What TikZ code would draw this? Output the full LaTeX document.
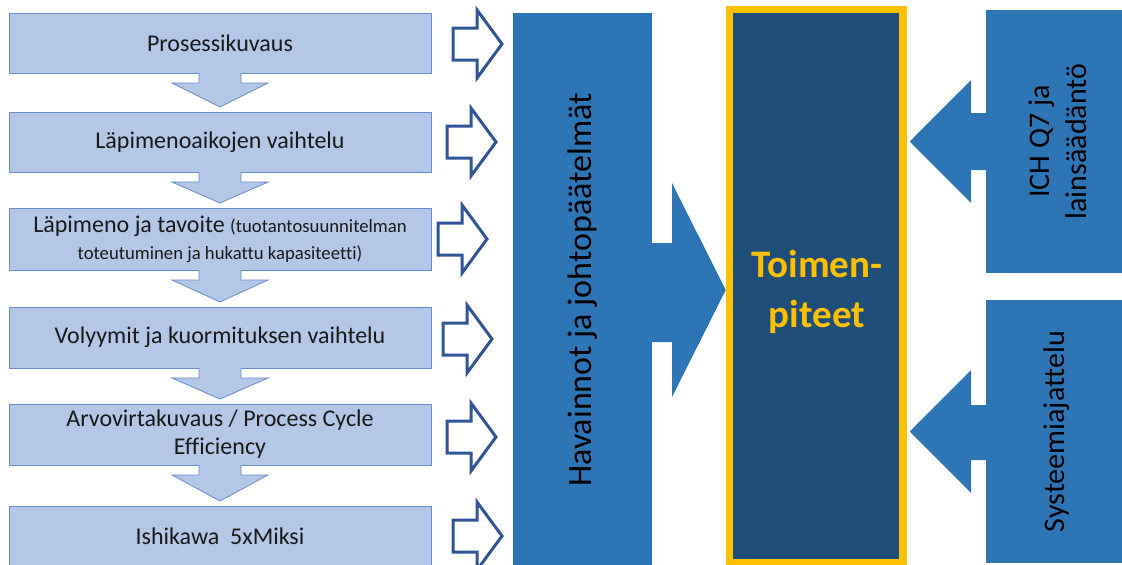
\documentclass[tikz,border=0pt]{standalone}
\usepackage{fontspec}
\setmainfont{Carlito}[Ligatures=CommonOff]
\usetikzlibrary{calc}
\definecolor{lfill}{HTML}{B4C7E7}
\definecolor{lborder}{HTML}{6A8BCB}
\definecolor{oline}{HTML}{2F5597}
\definecolor{midblue}{HTML}{2E75B6}
\definecolor{darkblue}{HTML}{1F4E79}
\definecolor{gold}{HTML}{FFC000}
\tikzset{
  lbox/.style={draw=lborder, fill=lfill, line width=0.8pt, minimum width=422pt, minimum height=60pt,
    inner sep=0pt, outer sep=0pt, align=center, anchor=north west, text=black!90,
    font=\fontsize{24}{28}\selectfont},
  darrfill/.style={fill=lfill},
  darrline/.style={draw=lborder, line width=0.8pt, line join=miter},
  oarr/.style={draw=oline, fill=white, line width=3pt, line join=miter},
  bluebox/.style={fill=midblue, draw=none, inner sep=0pt, outer sep=0pt, anchor=north west},
  vtext/.style={rotate=90, align=center, text=black, inner sep=0pt},
  toibox/.style={draw=gold, fill=darkblue, line width=7.5pt, minimum width=173.5pt, minimum height=553pt, inner sep=0pt},
  toitext/.style={text=gold, align=center, font=\bfseries\fontsize{39}{50}\selectfont, inner sep=0pt}
}
\begin{document}
\begin{tikzpicture}[x=1pt,y=-1pt]
\useasboundingbox (0,0) rectangle (1122,565);
\clip (0,0) rectangle (1122,565);
% left boxes
\node[lbox] (b1) at (9,13) {Prosessikuvaus};
\node[lbox] (b2) at (9,112) {Läpimenoaikojen vaihtelu};
\node[lbox, minimum height=62pt] (b3) at (9,208) {\fontsize{24}{21}\selectfont Läpimeno ja tavoite {\fontsize{18.7}{21}\selectfont (tuotantosuunnitelman}\\[-1pt]{\fontsize{18.7}{21}\selectfont toteutuminen ja hukattu kapasiteetti)}};
\node[lbox, minimum height=61pt] (b4) at (9,307) {Volyymit ja kuormituksen vaihtelu};
\node[lbox, minimum height=61pt] (b5) at (9,404) {Arvovirtakuvaus / Process Cycle\\Efficiency};
\node[lbox] (b6) at (9,506) {Ishikawa\ \ 5xMiksi};
% down arrows between the boxes
\foreach \a/\b in {b1/b2,b2/b3,b3/b4,b4/b5,b5/b6}{
  \fill[darrfill] ($(\a.south)+(-21,0)$) -- ++(0,10) -- ++(-27,0) -- ($(\b.north)+(0,-5)$)
     -- ($(\a.south)+(48,10)$) -- ++(-27,0) -- ++(0,-10) -- cycle;
  \draw[darrline] ($(\a.south)+(-21,0)$) -- ++(0,10) -- ++(-27,0) -- ($(\b.north)+(0,-5)$)
     -- ($(\a.south)+(48,10)$) -- ++(-27,0) -- ++(0,-10);
}
% outline arrows
\foreach \n/\dx/\dy in {b1/22/1,b2/16/0,b3/7/0,b4/12/1.5,b5/16/2.5,b6/22/0}{
  \draw[oarr] ($(\n.east)+(\dx,\dy)$) ++(0,-16) -- ++(24,0) -- ++(0,-18) -- ++(25,34)
     -- ++(-25,34) -- ++(0,-18) -- ++(-24,0) -- cycle;
}
% actions box
\node[toibox] (toi) at (816.25,286) {};
\node[toitext] (toit) at (817,292) {Toimen-\\piteet};
% Havainnot block arrow
\node[bluebox, minimum width=139pt, minimum height=552pt] (hav) at (513,13) {};
\fill[midblue] ($(hav.east)+(-1,-46)$) -- ++(21,0) -- ++(0,-60) -- ($(toi.west)+(0,4)$)
   -- ($(hav.east)+(20,108)$) -- ++(0,-55) -- ++(-21,0) -- cycle;
\node[vtext, font=\fontsize{34}{40}\selectfont] (havt) at (583,290) {Havainnot ja johtopäätelmät};
% right boxes
\node[bluebox, minimum width=144pt, minimum height=263pt] (ich) at (986,10) {};
\fill[midblue] ($(ich.west)+(1,-28.5)$) -- ++(-16,0) -- ++(0,-33) -- ($(toi.east)+(3,-144.5)$)
   -- ($(ich.west)+(-15,61.5)$) -- ++(0,-33) -- ++(16,0) -- cycle;
\node[vtext, font=\fontsize{30}{37}\selectfont] (icht) at (1058,141.5) {ICH Q7 ja\\lainsäädäntö};
\node[bluebox, minimum width=144pt, minimum height=263pt] (sys) at (986,300) {};
\fill[midblue] ($(sys.west)+(1,-26.5)$) -- ++(-16,0) -- ++(0,-35) -- ($(toi.east)+(3,145.5)$)
   -- ($(sys.west)+(-15,61.5)$) -- ++(0,-33) -- ++(16,0) -- cycle;
\node[vtext, font=\fontsize{30}{37}\selectfont] (syst) at (1057,431.5) {Systeemiajattelu};
\end{tikzpicture}
\end{document}
